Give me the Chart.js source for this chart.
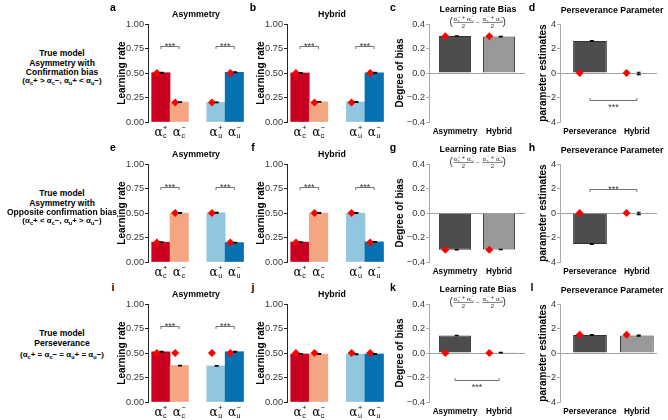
<!DOCTYPE html>
<html>
<head>
<meta charset="utf-8">
<script src="https://cdn.jsdelivr.net/npm/chart.js@4.4.0/dist/chart.umd.min.js"></script>
<style>
body { margin: 0; width: 668px; height: 420px; position: relative; overflow: hidden; background: #fff; font-family: "Liberation Sans", Arial, sans-serif; }
.txt { position: absolute; transform: translate(-50%, -50%); white-space: nowrap; font-weight: bold; line-height: 1; color: #000; }
.s { font-size: 5.5px; position: relative; top: 1.5px; }
</style>
</head>
<body>
<script>
const FONT = '"Liberation Sans", Arial, sans-serif';

// learning-rate panels
const rateNames = [['c', '+'], ['c', '−'], ['u', '+'], ['u', '−']];
const ratePos = [1, 2, 4, 5];
const rateColors = ['#ca0020', '#f4a582', '#92c5de', '#0571b0'];
const rateTicks = [0, 0.25, 0.5, 0.75, 1];

// row 1 : confirmation bias
const asymConfEst = [0.503, 0.203, 0.200, 0.507];
const asymConfSe = [0.004, 0.003, 0.003, 0.004];
const asymConfTrue = [0.5, 0.2, 0.2, 0.5];
const hybConfEst = [0.500, 0.206, 0.204, 0.502];
const hybConfSe = [0.004, 0.003, 0.003, 0.004];
const hybConfTrue = [0.5, 0.2, 0.2, 0.5];

// row 2 : opposite confirmation bias
const asymOppEst = [0.202, 0.499, 0.502, 0.198];
const asymOppSe = [0.003, 0.004, 0.004, 0.003];
const asymOppTrue = [0.2, 0.5, 0.5, 0.2];
const hybOppEst = [0.203, 0.499, 0.500, 0.205];
const hybOppSe = [0.003, 0.004, 0.004, 0.003];
const hybOppTrue = [0.2, 0.5, 0.5, 0.2];

// row 3 : perseverance
const asymPersEst = [0.512, 0.372, 0.368, 0.513];
const asymPersSe = [0.004, 0.003, 0.003, 0.004];
const asymPersTrue = [0.5, 0.5, 0.5, 0.5];
const hybPersEst = [0.490, 0.490, 0.488, 0.490];
const hybPersSe = [0.004, 0.004, 0.004, 0.004];
const hybPersTrue = [0.5, 0.5, 0.5, 0.5];

// learning rate bias panels
const biasNames = ['Asymmetry', 'Hybrid'];
const biasPos = [1, 2];
const biasColors = ['#4d4d4d', '#999999'];
const biasTicks = [-0.4, -0.2, 0, 0.2, 0.4];
const biasConfEst = [0.302, 0.297];
const biasConfSe = [0.002, 0.002];
const biasConfTrue = [0.3, 0.3];
const biasOppEst = [-0.299, -0.298];
const biasOppSe = [0.002, 0.002];
const biasOppTrue = [-0.3, -0.3];
const biasPersEst = [0.143, 0.003];
const biasPersSe = [0.002, 0.002];
const biasPersTrue = [0, 0];

// perseverance parameter panels
const persNames = ['Perseverance', 'Hybrid'];
const persTicks = [-4, -2, 0, 2, 4];
const persConfEst = [2.62, -0.04];
const persConfSe = [0.03, 0.1];
const persConfTrue = [0, 0];
const persOppEst = [-2.53, -0.04];
const persOppSe = [0.03, 0.1];
const persOppTrue = [0, 0];
const persPersEst = [1.47, 1.42];
const persPersSe = [0.03, 0.04];
const persPersTrue = [1.5, 1.5];

function addCanvas(left, top, w, h) {
    const c = document.createElement('canvas');
    c.width = w;
    c.height = h;
    c.style.cssText = `position:absolute;left:${left}px;top:${top}px;width:${w}px;height:${h}px`;
    document.body.appendChild(c);
    return c;
}

function addText(html, x, y, size) {
    const d = document.createElement('div');
    d.className = 'txt';
    d.innerHTML = html;
    d.style.left = x + 'px';
    d.style.top = y + 'px';
    d.style.fontSize = size + 'px';
    document.body.appendChild(d);
}

function termWidth(ctx, sub, sup, size) {
    ctx.font = `${size}px "DejaVu Serif"`;
    const a = ctx.measureText('α').width;
    ctx.font = `${size * 0.6}px ${FONT}`;
    return a + 0.5 + Math.max(ctx.measureText(sub).width, ctx.measureText(sup).width);
}

function drawTerm(ctx, x, y, sub, sup, size) {
    ctx.textAlign = 'left';
    ctx.textBaseline = 'alphabetic';
    ctx.font = `${size}px "DejaVu Serif"`;
    ctx.fillText('α', x, y);
    const a = ctx.measureText('α').width + 0.5;
    ctx.font = `${size * 0.6}px ${FONT}`;
    ctx.fillText(sub, x + a, y + size * 0.2);
    ctx.fillText(sup, x + a, y - size * 0.5);
}

// draws a small "(a+b)/2 - (c+d)/2" formula centred at cx
function drawFormula(ctx, cx, cy) {
    const size = 6;
    const parts = [[['c', '+'], ['u', '−']], [['c', '−'], ['u', '+']]];
    ctx.font = `${size}px ${FONT}`;
    const plusW = ctx.measureText(' + ').width;
    const numW = parts.map(p => termWidth(ctx, p[0][0], p[0][1], size) + plusW + termWidth(ctx, p[1][0], p[1][1], size));
    ctx.font = `${size}px ${FONT}`;
    const minusW = ctx.measureText(' − ').width + 2;
    const parW = 3;
    const total = parW * 2 + numW[0] + numW[1] + minusW;
    let x = cx - total / 2;
    ctx.fillStyle = '#333';
    ctx.strokeStyle = '#333';
    ctx.lineWidth = 0.6;
    ctx.font = `10px ${FONT}`;
    ctx.textAlign = 'left';
    ctx.textBaseline = 'middle';
    ctx.fillText('(', x - 1, cy);
    x += parW;
    parts.forEach((p, k) => {
        let tx = x;
        drawTerm(ctx, tx, cy - 1.5, p[0][0], p[0][1], size);
        tx += termWidth(ctx, p[0][0], p[0][1], size);
        ctx.font = `${size}px ${FONT}`;
        ctx.fillText(' + ', tx, cy - 3);
        tx += plusW;
        drawTerm(ctx, tx, cy - 1.5, p[1][0], p[1][1], size);
        ctx.beginPath();
        ctx.moveTo(x, cy + 0.5);
        ctx.lineTo(x + numW[k], cy + 0.5);
        ctx.stroke();
        ctx.font = `${size}px ${FONT}`;
        ctx.textAlign = 'center';
        ctx.textBaseline = 'middle';
        ctx.fillText('2', x + numW[k] / 2, cy + 4.5);
        ctx.textAlign = 'left';
        x += numW[k];
        if (k === 0) {
            ctx.fillText(' − ', x + 1, cy + 0.5);
            x += minusW;
        }
    });
    ctx.font = `10px ${FONT}`;
    ctx.textBaseline = 'middle';
    ctx.fillText(')', x, cy);
}

function extras(cfg) {
    return {
        id: 'extras',
        beforeDatasetsDraw(chart) {
            if (!cfg.zero) return;
            const { ctx, chartArea: a, scales: { y } } = chart;
            const py = Math.round(y.getPixelForValue(0)) + 0.5;
            ctx.save();
            ctx.strokeStyle = '#a0a0a0';
            ctx.lineWidth = 1;
            ctx.beginPath();
            ctx.moveTo(a.left, py);
            ctx.lineTo(a.right, py);
            ctx.stroke();
            ctx.restore();
        },
        afterDatasetsDraw(chart) {
            const { ctx, chartArea: a, scales: { x, y } } = chart;
            ctx.save();
            // error bars
            ctx.strokeStyle = '#000';
            ctx.lineWidth = 1.2;
            cfg.pos.forEach((p, i) => {
                const px = x.getPixelForValue(p + 0.04);
                const top = y.getPixelForValue(cfg.est[i] + cfg.se[i]);
                const bot = y.getPixelForValue(cfg.est[i] - cfg.se[i]);
                ctx.beginPath();
                ctx.moveTo(px, top); ctx.lineTo(px, bot);
                ctx.moveTo(px - 2, top); ctx.lineTo(px + 2, top);
                ctx.moveTo(px - 2, bot); ctx.lineTo(px + 2, bot);
                ctx.stroke();
            });
            // significance brackets
            (cfg.sig || []).forEach(s => {
                const x1 = x.getPixelForValue(s.from);
                const x2 = x.getPixelForValue(s.to);
                const py = Math.round(y.getPixelForValue(s.y)) + 0.5;
                const d = s.below ? -2.5 : 2.5;
                ctx.strokeStyle = '#666';
                ctx.lineWidth = 0.9;
                ctx.beginPath();
                ctx.moveTo(x1, py + d); ctx.lineTo(x1, py); ctx.lineTo(x2, py); ctx.lineTo(x2, py + d);
                ctx.stroke();
                ctx.fillStyle = '#333';
                ctx.font = `9px ${FONT}`;
                ctx.textAlign = 'center';
                ctx.textBaseline = 'alphabetic';
                ctx.fillText('***', (x1 + x2) / 2, s.below ? py + 9.5 : py + 2.5);
            });
            // category labels
            ctx.fillStyle = '#000';
            if (cfg.alpha) {
                cfg.alpha.forEach((nm, i) => {
                    const cx = x.getPixelForValue(cfg.pos[i]);
                    const w = termWidth(ctx, nm[0], nm[1], 12);
                    drawTerm(ctx, cx - w / 2, a.bottom + 14, nm[0], nm[1], 12);
                });
            }
            if (cfg.names) {
                ctx.font = `bold 8.2px ${FONT}`;
                ctx.textAlign = 'center';
                ctx.textBaseline = 'middle';
                cfg.names.forEach((nm, i) => {
                    ctx.fillText(nm, x.getPixelForValue(cfg.pos[i]), a.bottom + 10);
                });
            }
            if (cfg.formula) drawFormula(ctx, (a.left + a.right) / 2 + 1, 22);
            ctx.restore();
        }
    };
}

function makePanel(p) {
    const canvas = addCanvas(p.left, p.top, p.width, 140);
    const toPts = vals => vals.map((v, i) => ({ x: p.pos[i], y: v }));
    const truePts = p.truth.map((v, i) => ({ x: p.pos[i] - 0.22, y: v }));
    return new Chart(canvas, {
        type: 'bar',
        data: {
            datasets: [
                {
                    type: 'bar',
                    order: 2,
                    data: toPts(p.est),
                    backgroundColor: p.colors,
                    borderColor: p.border || 'transparent',
                    borderWidth: p.border ? 1 : 0,
                    barPercentage: p.barPct,
                    categoryPercentage: 1
                },
                {
                    type: 'scatter',
                    order: 1,
                    data: truePts,
                    pointStyle: 'rectRot',
                    pointRadius: 4,
                    pointBackgroundColor: '#ff0000',
                    pointBorderWidth: 0
                }
            ]
        },
        options: {
            responsive: false,
            animation: false,
            events: [],
            layout: { padding: { top: 24, right: 5, left: 0, bottom: 0 } },
            plugins: { legend: { display: false }, tooltip: { enabled: false } },
            scales: {
                x: {
                    type: 'linear',
                    min: p.xmin,
                    max: p.xmax,
                    offset: false,
                    afterBuildTicks: s => { s.ticks = p.pos.map(v => ({ value: v })); },
                    afterFit: s => { s.height = 18; },
                    grid: { display: false, drawTicks: false },
                    border: { display: false },
                    ticks: { display: false }
                },
                y: {
                    min: p.ymin,
                    max: p.ymax,
                    afterBuildTicks: s => { s.ticks = p.yTicks.map(v => ({ value: v })); },
                    afterFit: s => { s.width = p.axisW; },
                    grid: { display: true, drawOnChartArea: false, drawTicks: true, tickLength: 3, color: p.axisColor },
                    border: { display: true, color: p.axisColor, width: 1 },
                    ticks: {
                        padding: 1,
                        color: '#333',
                        font: { family: FONT, size: 9.2 },
                        callback: p.fmt
                    },
                    title: {
                        display: true,
                        text: p.yTitle,
                        color: '#000',
                        padding: { top: 0, bottom: 0 },
                        font: { family: FONT, size: 10, weight: 'bold' }
                    }
                }
            }
        },
        plugins: [extras({
            pos: p.pos, est: p.est, se: p.se, sig: p.sig, names: p.xNames,
            alpha: p.alpha, zero: p.zero, formula: p.formula
        })]
    });
}

const fmtRate = v => v.toFixed(2);
const fmtBias = v => (Math.abs(v) < 1e-9 ? '0.0' : v.toFixed(1).replace('-', '−'));
const fmtPers = v => (Math.abs(v) < 1e-9 ? '0' : String(v).replace('-', '−'));

const rows = [
    {
        asym: [asymConfEst, asymConfSe, asymConfTrue], hyb: [hybConfEst, hybConfSe, hybConfTrue],
        bias: [biasConfEst, biasConfSe, biasConfTrue], pers: [persConfEst, persConfSe, persConfTrue],
        sigA: 0.78, sigB: 0.78, sigBias: null, sigPers: { y: -2.2, below: true },
        letters: ['a', 'b', 'c', 'd']
    },
    {
        asym: [asymOppEst, asymOppSe, asymOppTrue], hyb: [hybOppEst, hybOppSe, hybOppTrue],
        bias: [biasOppEst, biasOppSe, biasOppTrue], pers: [persOppEst, persOppSe, persOppTrue],
        sigA: 0.77, sigB: 0.77, sigBias: null, sigPers: { y: 2.0, below: false },
        letters: ['e', 'f', 'g', 'h']
    },
    {
        asym: [asymPersEst, asymPersSe, asymPersTrue], hyb: [hybPersEst, hybPersSe, hybPersTrue],
        bias: [biasPersEst, biasPersSe, biasPersTrue], pers: [persPersEst, persPersSe, persPersTrue],
        sigA: 0.78, sigB: null, sigBias: { y: -0.22, below: true }, sigPers: null,
        letters: ['i', 'j', 'k', 'l']
    }
];

const ratePairs = y => [{ from: 1, to: 2, y: y, below: false }, { from: 4, to: 5, y: y, below: false }];

rows.forEach((r, k) => {
    const top = k * 140;
    const rateBase = {
        top, pos: ratePos, colors: rateColors, barPct: 1, xmin: 0.3, xmax: 5.58,
        ymin: 0, ymax: 1, yTicks: rateTicks, fmt: fmtRate, axisW: 32, axisColor: '#222',
        yTitle: 'Learning rate', alpha: rateNames
    };
    makePanel(Object.assign({}, rateBase, {
        left: 116, width: 134, est: r.asym[0], se: r.asym[1], truth: r.asym[2],
        sig: r.sigA ? ratePairs(r.sigA) : []
    }));
    makePanel(Object.assign({}, rateBase, {
        left: 255, width: 135, est: r.hyb[0], se: r.hyb[1], truth: r.hyb[2],
        sig: r.sigB ? ratePairs(r.sigB) : []
    }));
    makePanel({
        top, left: 394, width: 136, pos: biasPos, colors: biasColors, border: '#333', barPct: 0.73,
        xmin: 0.41, xmax: 2.59, ymin: -0.4, ymax: 0.4, yTicks: biasTicks, fmt: fmtBias,
        axisW: 35, axisColor: '#aaaaaa', yTitle: 'Degree of bias', xNames: biasNames,
        est: r.bias[0], se: r.bias[1], truth: r.bias[2], zero: true, formula: true,
        sig: r.sigBias ? [Object.assign({ from: 1, to: 2 }, r.sigBias)] : []
    });
    makePanel({
        top, left: 537, width: 125, pos: biasPos, colors: biasColors, border: '#333', barPct: 0.72,
        xmin: 0.36, xmax: 2.43, ymin: -4, ymax: 4, yTicks: persTicks, fmt: fmtPers,
        axisW: 23, axisColor: '#aaaaaa', yTitle: 'parameter estimates', xNames: persNames,
        est: r.pers[0], se: r.pers[1], truth: r.pers[2], zero: true,
        sig: r.sigPers ? [Object.assign({ from: 1, to: 2 }, r.sigPers)] : []
    });

    // panel letters and titles
    const lx = [113, 253, 393, 532];
    r.letters.forEach((l, i) => addText(l, lx[i], top + 7, 10.5));
    addText('Asymmetry', 196, top + 14, 8.8);
    addText('Hybrid', 332, top + 14, 8.8);
    addText('Learning rate Bias', 478, top + 9, 8.8);
    addText('Perseverance Parameter', 612, top + 10, 8.8);
});

// row labels
const a = (s, sup) => `α<span class="s">${s}</span>${sup}`;
addText('True model', 62, 53, 8.5);
addText('Asymmetry with', 62, 62.5, 8.5);
addText('Confirmation bias', 62, 72, 8.5);
addText(`(${a('c', '+')} &gt; ${a('c', '−')}, ${a('u', '+')} &lt; ${a('u', '−')})`, 62, 81, 8);

addText('True model', 62, 193, 8.5);
addText('Asymmetry with', 62, 202.5, 8.5);
addText('Opposite confirmation bias', 62, 212, 8.5);
addText(`(${a('c', '+')} &lt; ${a('c', '−')}, ${a('u', '+')} &gt; ${a('u', '−')})`, 62, 221, 8);

addText('True model', 62, 333, 8.5);
addText('Perseverance', 62, 343, 8.5);
addText(`(${a('c', '+')} = ${a('c', '−')} = ${a('u', '+')} = ${a('u', '−')})`, 62, 355, 8);
</script>
</body>
</html>
